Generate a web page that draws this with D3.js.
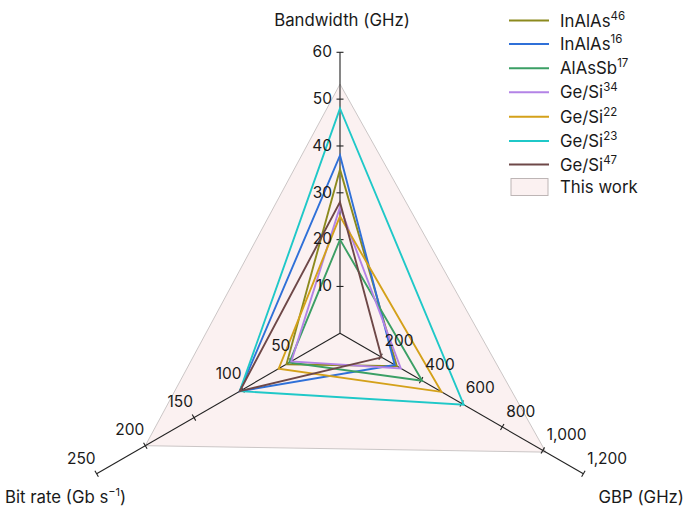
<!DOCTYPE html>
<html><head><meta charset="utf-8">
<script src="https://cdn.jsdelivr.net/npm/d3@7"></script>
<style>body{margin:0;background:#fff}svg{display:block;font-family:Inter,"Noto Sans",sans-serif}</style>
</head><body><svg id="c" width="700" height="512"></svg>
<script>
// Axes
const axisNames = ["Bandwidth (GHz)", "GBP (GHz)", "Bit rate (Gb s\u207B\u00B9)"];
const bwTicks = [10, 20, 30, 40, 50, 60];
const gbpTicks = [200, 400, 600, 800, 1000, 1200];
const brTicks = [50, 100, 150, 200, 250];
// Series: [bandwidth GHz, GBP GHz, bit rate Gb/s]
const seriesNames = ["InAlAs", "InAlAs", "AlAsSb", "Ge/Si", "Ge/Si", "Ge/Si", "Ge/Si"];
const seriesRefs = ["46", "16", "17", "34", "22", "23", "47"];
const seriesColors = ["#8c8a1e", "#2f70d8", "#3b9f65", "#b383e6", "#d4a11a", "#1fc8c8", "#6e4848"];
const bandwidth = [35, 38, 20, 27, 25, 48, 28];
const gbp = [280, 270, 405, 300, 500, 610, 205];
const bitRate = [55, 103, 52, 50, 63, 103, 103];
const thisWork = {name: "This work", bandwidth: 53.2, gbp: 1015, bitRate: 200};

const svg = d3.select("#c");
const cx = 340, cy = 333.3, R = 281;
const rBW = d3.scaleLinear().domain([0, 60]).range([0, R]);
const rGBP = d3.scaleLinear().domain([0, 1200]).range([0, R]);
const rBR = d3.scaleLinear().domain([0, 250]).range([0, R]);
const ang = [-90, 30, 150].map(a => a * Math.PI / 180);
const scales = [rBW, rGBP, rBR];
function pt(i, v) { const r = scales[i](v); return [cx + r * Math.cos(ang[i]), cy + r * Math.sin(ang[i])]; }
const line = d3.line().curve(d3.curveLinearClosed);

// This work triangle
svg.append("path")
  .attr("d", line([pt(0, thisWork.bandwidth), pt(1, thisWork.gbp), pt(2, thisWork.bitRate)]))
  .attr("fill", "#fbf1f1").attr("stroke", "#cbc6c6").attr("stroke-width", 1);

// axes
const axisMax = [60, 1200, 250];
const axG = svg.append("g").attr("stroke", "#222").attr("stroke-width", 1.1);
[0, 1, 2].forEach(i => {
  const p = pt(i, axisMax[i]);
  axG.append("line").attr("x1", cx).attr("y1", cy).attr("x2", p[0]).attr("y2", p[1]);
});
// ticks
const tickSets = [bwTicks, gbpTicks, brTicks];
const tl = 3.5;
tickSets.forEach((ts, i) => {
  const px = -Math.sin(ang[i]), py = Math.cos(ang[i]);
  ts.forEach(t => {
    const p = pt(i, t);
    axG.append("line").attr("x1", p[0] - px * tl).attr("y1", p[1] - py * tl)
      .attr("x2", p[0] + px * tl).attr("y2", p[1] + py * tl);
  });
});

// series
const seriesG = svg.append("g").attr("fill", "none").attr("stroke-width", 1.9).attr("stroke-linejoin", "miter");
seriesNames.forEach((n, k) => {
  seriesG.append("path")
    .attr("d", line([pt(0, bandwidth[k]), pt(1, gbp[k]), pt(2, bitRate[k])]))
    .attr("stroke", seriesColors[k]);
});

// tick labels
const fmt = d3.format(",");
const labG = svg.append("g").attr("font-size", 15.5).attr("fill", "#1a1a1a").attr("dominant-baseline", "middle");
bwTicks.forEach(t => { const p = pt(0, t); labG.append("text").attr("x", p[0] - 8).attr("y", p[1] + 0.5).attr("text-anchor", "end").text(fmt(t)); });
gbpTicks.forEach(t => { const p = pt(1, t); labG.append("text").attr("x", p[0] + 4).attr("y", p[1] - 14.5).attr("text-anchor", "start").text(fmt(t)); });
brTicks.forEach(t => { const p = pt(2, t); labG.append("text").attr("x", p[0] - 1).attr("y", p[1] - 14.5).attr("text-anchor", "end").text(fmt(t)); });

// axis titles
const ttl = svg.append("g").attr("font-size", 16.8).attr("fill", "#1a1a1a");
ttl.append("text").attr("x", 342).attr("y", 26).attr("text-anchor", "middle").text(axisNames[0]);
ttl.append("text").attr("x", 684).attr("y", 503).attr("text-anchor", "end").text(axisNames[1]);
const br = ttl.append("text").attr("x", 5).attr("y", 503).attr("text-anchor", "start");
br.append("tspan").text("Bit rate (Gb s");
br.append("tspan").attr("font-size", 11).attr("dy", -7).text("\u22121");
br.append("tspan").attr("dy", 7).text(")");

// legend
const lg = svg.append("g").attr("font-size", 16.8).attr("fill", "#1a1a1a");
const ly = [20.5, 44, 68.3, 92.3, 116.7, 141, 164.5];
seriesNames.forEach((n, k) => {
  lg.append("line").attr("x1", 509).attr("x2", 549).attr("y1", ly[k]).attr("y2", ly[k])
    .attr("stroke", seriesColors[k]).attr("stroke-width", 2);
  const t = lg.append("text").attr("x", 560).attr("y", ly[k] + 6);
  t.append("tspan").text(n);
  t.append("tspan").attr("font-size", 11.5).attr("dy", -7).text(seriesRefs[k]);
});
lg.append("rect").attr("x", 511).attr("y", 178.5).attr("width", 37).attr("height", 17)
  .attr("fill", "#fbf1f1").attr("stroke", "#bdb5b5").attr("stroke-width", 1);
lg.append("text").attr("x", 560).attr("y", 193).text(thisWork.name);
</script></body></html>
